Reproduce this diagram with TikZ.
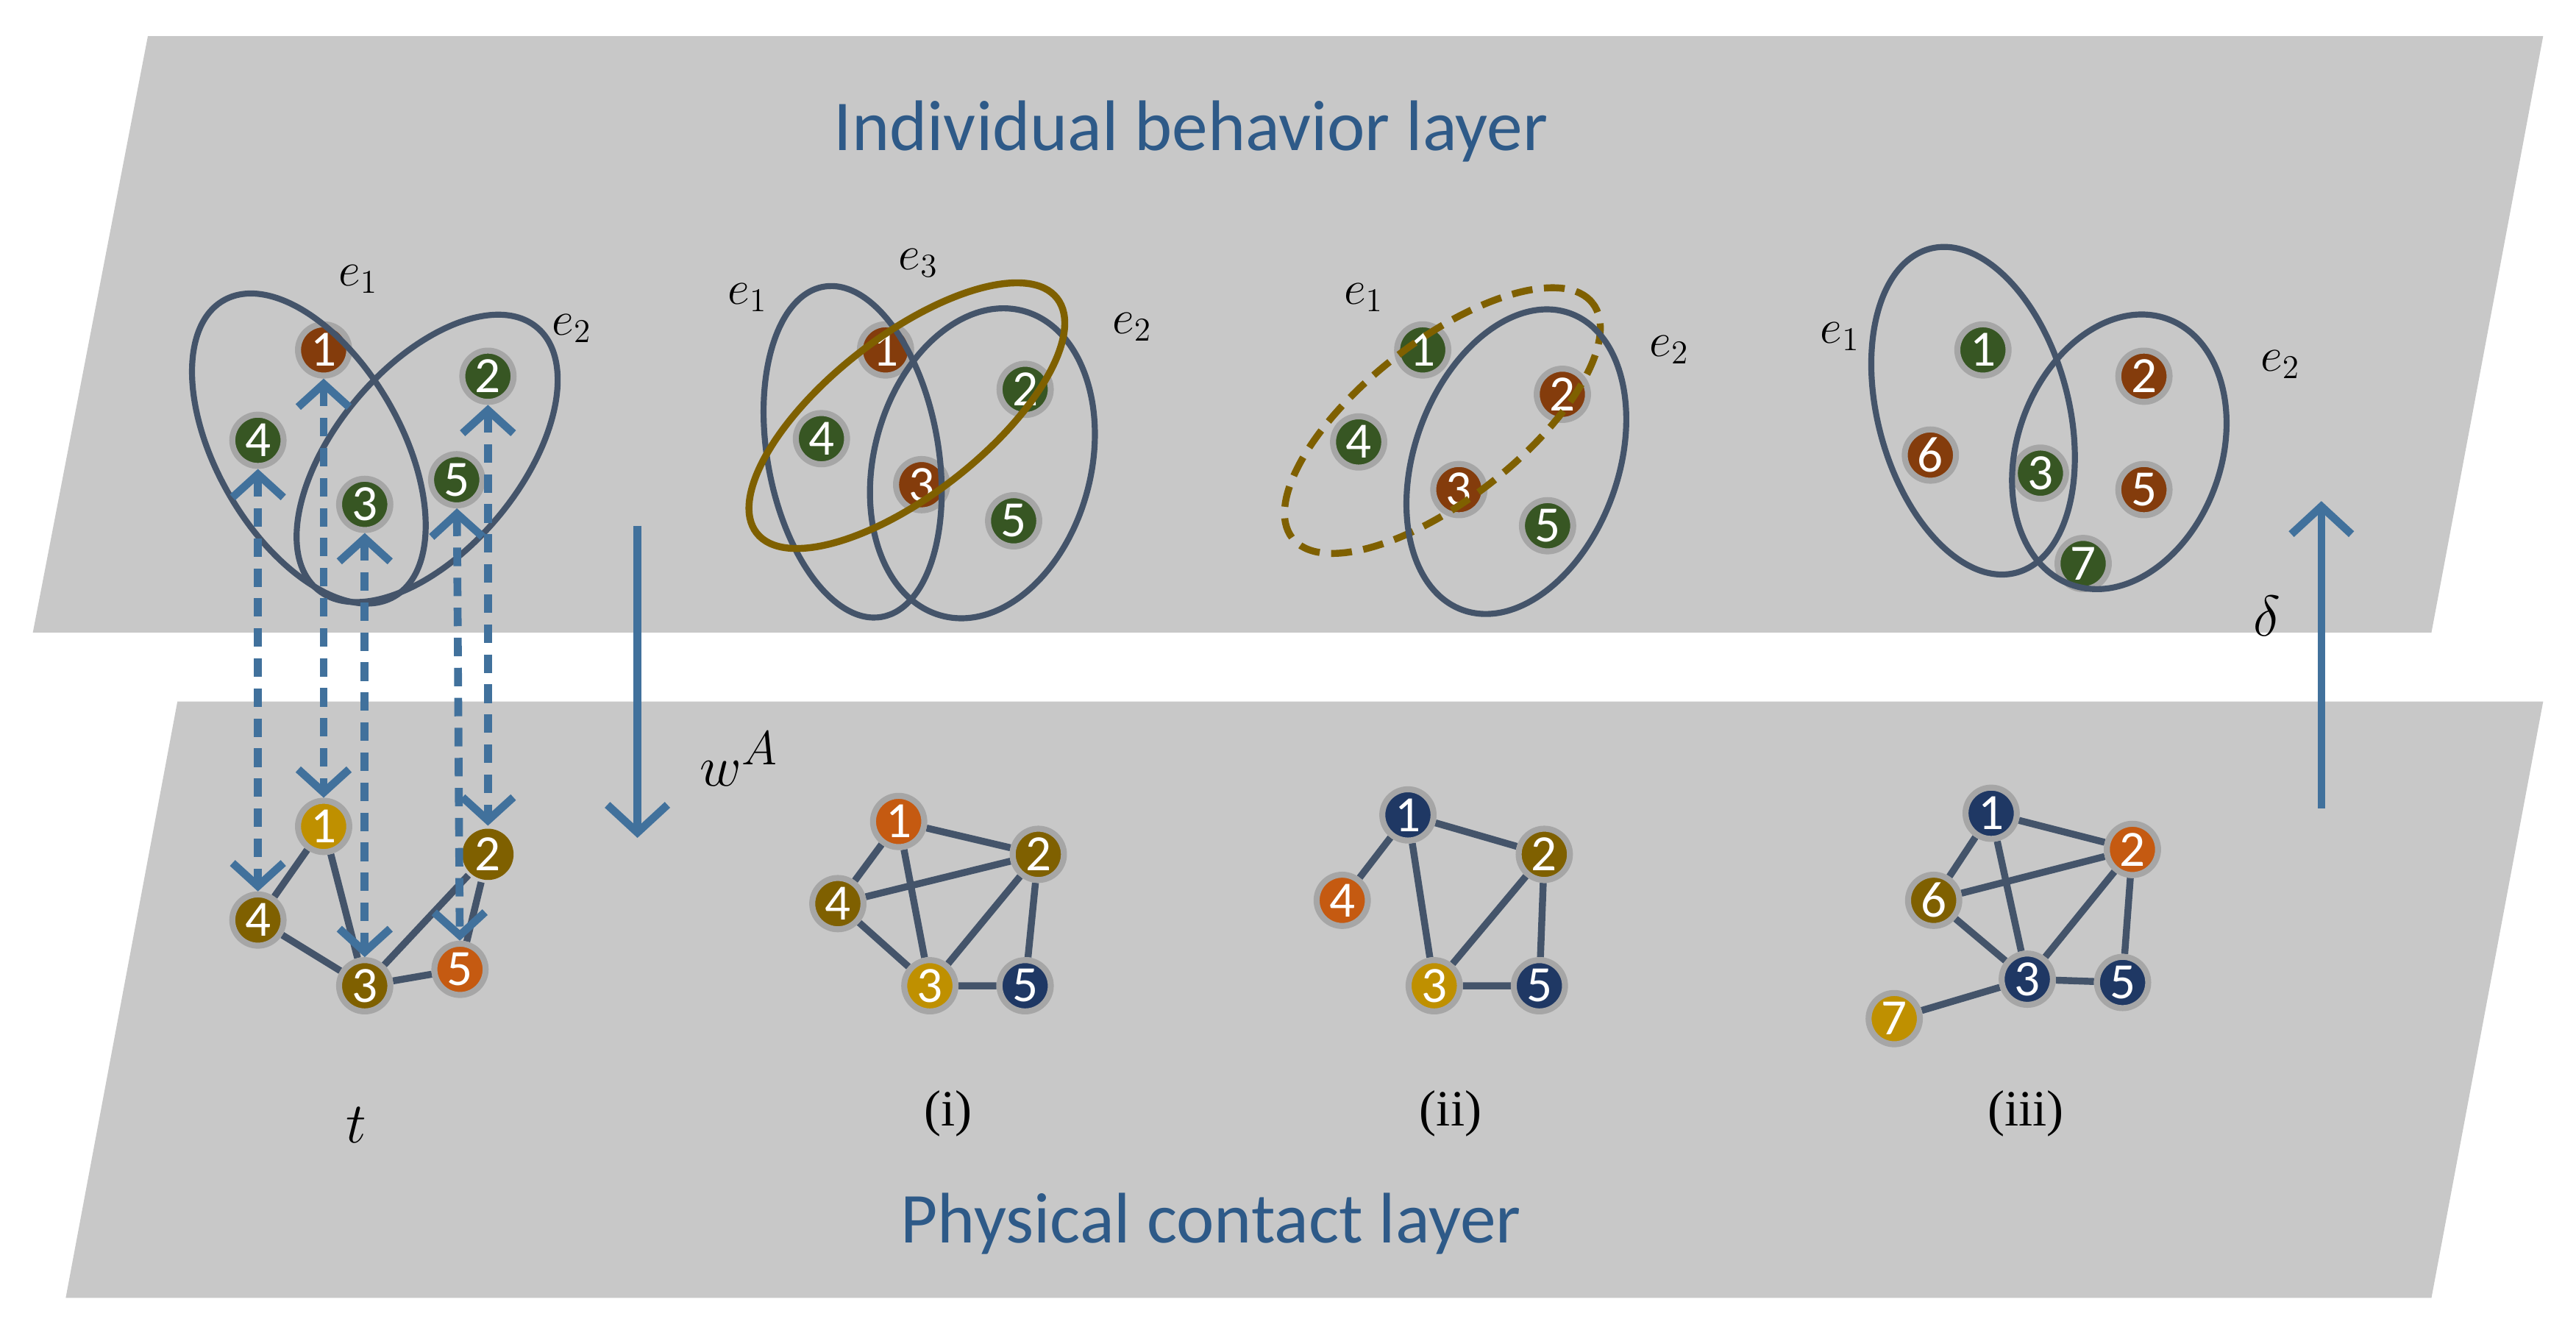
\documentclass[tikz,border=0pt]{standalone}
\usepackage{fontspec}
\setmainfont{Carlito}
\usetikzlibrary{arrows.meta,backgrounds}
\definecolor{layergray}{HTML}{C8C8C8}
\definecolor{halo}{HTML}{A6A6A6}
\definecolor{edgeblue}{HTML}{44546A}
\definecolor{arrblue}{HTML}{41719C}
\definecolor{txtblue}{HTML}{2E5A88}
\definecolor{brn}{HTML}{843C0C}
\definecolor{grn}{HTML}{375623}
\definecolor{gld}{HTML}{BF9000}
\definecolor{olv}{HTML}{7F6000}
\definecolor{org}{HTML}{C55A11}
\definecolor{nvy}{HTML}{1F3864}
\tikzset{
    vx/.style={circle, fill=#1, draw=halo, line width=2.6pt, minimum size=0.78cm,
        inner sep=0pt, text=white, font=\fontsize{22}{22}\selectfont},
    hedge/.style={draw=edgeblue, line width=2.6pt},
    gedge/.style={draw=olv, line width=3pt},
    link/.style={draw=edgeblue, line width=3pt},
    map/.style={draw=arrblue, line width=3.4pt, dash pattern=on 8pt off 5pt,
        {Straight Barb[length=10pt,width=22pt]}-{Straight Barb[length=10pt,width=22pt]}},
    lab/.style={font=\fontsize{22}{22}\selectfont},
    layertext/.style={text=txtblue, font=\fontsize{31}{34}\selectfont},
}
\begin{document}
\begin{tikzpicture}[x=0.025cm,y=-0.025cm]
\useasboundingbox (0,0) rectangle (1568,809.5);

% layers
\begin{scope}[on background layer]
\fill[layergray] (20,385) -- (90,22) -- (1548,22) -- (1480,385) -- cycle;
\fill[layergray] (40,790) -- (108,427) -- (1548,427) -- (1480,790) -- cycle;
\end{scope}
\node[layertext] (toptitle) at (725,80) {Individual behavior layer};
\node[layertext] (bottitle) at (737,745) {Physical contact layer};

% t: behavior layer
\node[vx=brn] (t1) at (197,213) {1};
\node[vx=grn] (t2) at (297,229) {2};
\node[vx=grn] (t3) at (222,307) {3};
\node[vx=grn] (t4) at (157,268) {4};
\node[vx=grn] (t5) at (278,292) {5};
\draw[hedge] (188,273) circle[x radius=2.6cm, y radius=1.4cm, rotate=-60];
\draw[hedge] (260,279) circle[x radius=2.6cm, y radius=1.4cm, rotate=50];
\node[lab] (te1) at (218,170) {$e_1$};
\node[lab] (te2) at (348,200) {$e_2$};

% t: contact layer
\node[vx=gld] (b1) at (197,503) {1};
\node[vx=olv, draw=none] (b2) at (297,520) {2};
\node[vx=olv] (b3) at (222,600) {3};
\node[vx=olv] (b4) at (157,560) {4};
\node[vx=org] (b5) at (280,590) {5};
\begin{scope}[on background layer]
\draw[link] (b1) -- (b4) (b1) -- (b3) (b4) -- (b3) (b3) -- (b5) (b3) -- (b2) (b5) -- (b2);
\end{scope}
\foreach \n in {1,...,5}
    \draw[map] (t\n) -- (b\n);
\node[font=\fontsize{30}{30}\selectfont] (tlab) at (217,685) {$t$};

% (i)
\node[vx=brn] (ia1) at (539,213) {1};
\node[vx=grn] (ia2) at (624,237) {2};
\node[vx=brn] (ia3) at (561,295) {3};
\node[vx=grn] (ia4) at (500,267) {4};
\node[vx=grn] (ia5) at (617,317) {5};
\draw[hedge] (519,275) circle[x radius=2.55cm, y radius=1.3cm, rotate=100];
\draw[hedge] (598,282) circle[x radius=2.4cm, y radius=1.65cm, rotate=75];
\draw[draw=olv, line width=3pt] (552,253) circle[x radius=2.9cm, y radius=1.2cm, rotate=38];
\node[lab] (iae1) at (455,181) {$e_1$};
\node[lab] (iae3) at (559,160) {$e_3$};
\node[lab] (iae2) at (689,199) {$e_2$};

\node[vx=org] (ib1) at (547,500) {1};
\node[vx=olv] (ib2) at (632,520) {2};
\node[vx=gld] (ib3) at (566,600) {3};
\node[vx=olv] (ib4) at (510,550) {4};
\node[vx=nvy] (ib5) at (624,600) {5};
\begin{scope}[on background layer]
\draw[link] (ib1) -- (ib4) (ib1) -- (ib2) (ib1) -- (ib3) (ib4) -- (ib2) (ib4) -- (ib3)
    (ib3) -- (ib2) (ib3) -- (ib5) (ib5) -- (ib2);
\end{scope}
\node[lab] (ilab) at (577,678) {\fontspec{Liberation Serif}(i)};

% (ii)
\node[vx=grn] (iia1) at (866,213) {1};
\node[vx=brn] (iia2) at (951,240) {2};
\node[vx=brn] (iia3) at (888,298) {3};
\node[vx=grn] (iia4) at (827,269) {4};
\node[vx=grn] (iia5) at (942,320) {5};
\draw[draw=olv, line width=3pt, dash pattern=on 9pt off 5pt] (878,256) circle[x radius=2.9cm, y radius=1.2cm, rotate=38];
\draw[hedge] (923,281) circle[x radius=2.4cm, y radius=1.55cm, rotate=70];
\node[lab] (iiae1) at (830,181) {$e_1$};
\node[lab] (iiae2) at (1016,213) {$e_2$};

\node[vx=nvy] (iib1) at (857,496) {1};
\node[vx=olv] (iib2) at (940,520) {2};
\node[vx=gld] (iib3) at (873,600) {3};
\node[vx=org] (iib4) at (817,548) {4};
\node[vx=nvy] (iib5) at (937,600) {5};
\begin{scope}[on background layer]
\draw[link] (iib1) -- (iib4) (iib1) -- (iib2) (iib1) -- (iib3) (iib3) -- (iib2)
    (iib3) -- (iib5) (iib5) -- (iib2);
\end{scope}
\node[lab] (iilab) at (883,678) {\fontspec{Liberation Serif}(ii)};

% (iii)
\node[vx=grn] (iiia1) at (1207,213) {1};
\node[vx=brn] (iiia2) at (1305,229) {2};
\node[vx=grn] (iiia3) at (1242,288) {3};
\node[vx=brn] (iiia5) at (1305,298) {5};
\node[vx=brn] (iiia6) at (1175,277) {6};
\node[vx=grn] (iiia7) at (1268,343) {7};
\draw[hedge] (1201,250) circle[x radius=2.55cm, y radius=1.45cm, rotate=105];
\draw[hedge] (1290,275) circle[x radius=2.15cm, y radius=1.55cm, rotate=70];
\node[lab] (iiiae1) at (1120,205) {$e_1$};
\node[lab] (iiiae2) at (1388,222) {$e_2$};

\node[vx=nvy] (iiib1) at (1212,495) {1};
\node[vx=org] (iiib2) at (1298,517) {2};
\node[vx=nvy] (iiib3) at (1234,596) {3};
\node[vx=nvy] (iiib5) at (1292,598) {5};
\node[vx=olv] (iiib6) at (1177,548) {6};
\node[vx=gld] (iiib7) at (1153,620) {7};
\begin{scope}[on background layer]
\draw[link] (iiib1) -- (iiib6) (iiib1) -- (iiib2) (iiib6) -- (iiib2) (iiib6) -- (iiib3)
    (iiib1) -- (iiib3) (iiib2) -- (iiib3) (iiib2) -- (iiib5) (iiib3) -- (iiib5) (iiib3) -- (iiib7);
\end{scope}
\node[lab] (iiilab) at (1233,678) {\fontspec{Liberation Serif}(iii)};

% layer maps
\coordinate (wtop) at (388,320);
\coordinate (wbot) at (388,510);
\draw[draw=arrblue, line width=3.4pt, -{Straight Barb[length=12pt,width=26pt]}] (wtop) -- (wbot);
\node[font=\fontsize{30}{30}\selectfont] (wlab) at (450,462) {$w^A$};
\coordinate (dbot) at (1413,492);
\coordinate (dtop) at (1413,305);
\draw[draw=arrblue, line width=3.4pt, -{Straight Barb[length=12pt,width=26pt]}] (dbot) -- (dtop);
\node[font=\fontsize{28}{28}\selectfont] (dlab) at (1380,375) {$\delta$};
\end{tikzpicture}
\end{document}
